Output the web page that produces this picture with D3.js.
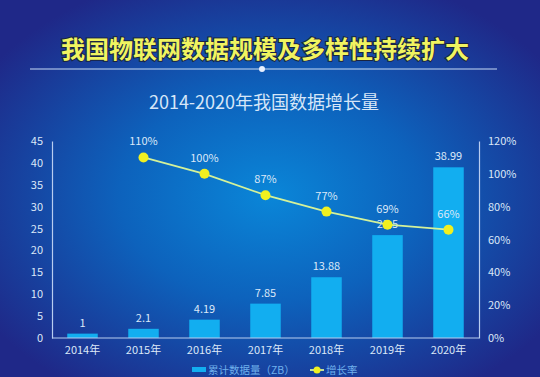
<!DOCTYPE html>
<html lang="zh">
<head>
<meta charset="UTF-8">
<title>物联网数据规模</title>
<script src="https://cdn.jsdelivr.net/npm/d3@7"></script>
<style>
  html, body { margin: 0; padding: 0; background: #1c2a86; }
  svg { display: block; font-family: "Noto Sans CJK SC", "Noto Sans", sans-serif; }
</style>
</head>
<body>
<div id="chart"></div>
<script>
const years = ["2014年", "2015年", "2016年", "2017年", "2018年", "2019年", "2020年"];
const volume = [1, 2.1, 4.19, 7.85, 13.88, 23.5, 38.99];
const volumeLabels = ["1", "2.1", "4.19", "7.85", "13.88", "23.5", "38.99"];
const rateYears = ["2015年", "2016年", "2017年", "2018年", "2019年", "2020年"];
const rate = [110, 100, 87, 77, 69, 66];
const leftTicks = [0, 5, 10, 15, 20, 25, 30, 35, 40, 45];
const rightTicks = [0, 20, 40, 60, 80, 100, 120];

const w = 540, h = 377;
const plotTop = 141, plotBottom = 338, plotLeft = 52, plotRight = 479;

const svg = d3.select("#chart").append("svg")
  .attr("width", w).attr("height", h);

// background
const defs = svg.append("defs");
const grad = defs.append("radialGradient").attr("id", "bg")
  .attr("cx", "50%").attr("cy", "52%").attr("r", "62%");
grad.append("stop").attr("offset", "0%").attr("stop-color", "#0a86d8");
grad.append("stop").attr("offset", "45%").attr("stop-color", "#0d62bc");
grad.append("stop").attr("offset", "100%").attr("stop-color", "#1f2888");
svg.append("rect").attr("width", w).attr("height", h).attr("fill", "url(#bg)");

// headings
svg.append("text")
  .attr("x", 265).attr("y", 58)
  .attr("text-anchor", "middle")
  .attr("font-size", 24).attr("font-weight", "bold")
  .attr("fill", "#f0f460")
  .attr("stroke", "#1a2440").attr("stroke-width", 2).attr("paint-order", "stroke")
  .text("我国物联网数据规模及多样性持续扩大");

svg.append("line")
  .attr("x1", 30).attr("x2", 497).attr("y1", 69).attr("y2", 69)
  .attr("stroke", "#c8dcf6").attr("stroke-width", 1.2);
svg.append("circle").attr("cx", 262).attr("cy", 69).attr("r", 3).attr("fill", "#e8f0ff");

svg.append("text")
  .attr("x", 264).attr("y", 109)
  .attr("text-anchor", "middle")
  .attr("font-size", 18)
  .attr("fill", "#d6e6f8")
  .text("2014-2020年我国数据增长量");

// scales
const x = d3.scaleBand().domain(years).range([plotLeft, plotRight]).paddingInner(0.5).paddingOuter(0.25);
const y = d3.scaleLinear().domain([0, 45]).range([plotBottom, plotTop]);
const y2 = d3.scaleLinear().domain([0, 120]).range([plotBottom, plotTop]);

const axisColor = "#b8cdf0";
const textColor = "#dce8f8";

// bars
svg.append("g").selectAll("rect")
  .data(volume)
  .join("rect")
  .attr("x", (d, i) => x(years[i]))
  .attr("y", d => y(d))
  .attr("width", x.bandwidth())
  .attr("height", d => plotBottom - y(d))
  .attr("fill", "#12aef0");

svg.append("g").selectAll("text")
  .data(volumeLabels)
  .join("text")
  .attr("x", (d, i) => x(years[i]) + x.bandwidth() / 2)
  .attr("y", (d, i) => y(volume[i]) - 7)
  .attr("text-anchor", "middle")
  .attr("font-size", 11)
  .attr("fill", textColor)
  .text(d => d);

// axes
const leftAxis = svg.append("g")
  .attr("transform", `translate(${plotLeft},0)`)
  .call(d3.axisLeft(y).tickValues(leftTicks).tickSize(0).tickPadding(9));
const rightAxis = svg.append("g")
  .attr("transform", `translate(${plotRight},0)`)
  .call(d3.axisRight(y2).tickValues(rightTicks).tickSize(0).tickPadding(9).tickFormat(d => d + "%"));
const bottomAxis = svg.append("g")
  .attr("transform", `translate(0,${plotBottom})`)
  .call(d3.axisBottom(x).tickSize(0).tickPadding(8));

[leftAxis, rightAxis, bottomAxis].forEach(g => {
  g.select(".domain").attr("stroke", axisColor).attr("stroke-width", 1.2);
  g.selectAll("text").attr("fill", textColor).attr("font-size", 11)
    .attr("font-family", "\"Noto Sans CJK SC\", sans-serif");
});
bottomAxis.select(".domain").attr("d", `M${plotLeft},0H${plotRight}`);

// growth line
const cx = d => x(d) + x.bandwidth() / 2;
svg.append("path")
  .datum(rate)
  .attr("fill", "none")
  .attr("stroke", "#d4f29a")
  .attr("stroke-width", 1.8)
  .attr("d", d3.line().x((d, i) => cx(rateYears[i])).y(d => y2(d)));

svg.append("g").selectAll("circle")
  .data(rate)
  .join("circle")
  .attr("cx", (d, i) => cx(rateYears[i]))
  .attr("cy", d => y2(d))
  .attr("r", 5)
  .attr("fill", "#f0f020");

svg.append("g").selectAll("text")
  .data(rate)
  .join("text")
  .attr("x", (d, i) => cx(rateYears[i]))
  .attr("y", d => y2(d) - 12)
  .attr("text-anchor", "middle")
  .attr("font-size", 11)
  .attr("fill", textColor)
  .text(d => d + "%");

// legend
const legend = svg.append("g").attr("transform", "translate(0,370)");
legend.append("rect").attr("x", 192).attr("y", -3).attr("width", 14).attr("height", 5).attr("fill", "#12aef0");
legend.append("text").attr("x", 208).attr("y", 4).attr("font-size", 10.5).attr("fill", "#6fb0ec")
  .text("累计数据量（ZB）");
legend.append("line").attr("x1", 310).attr("x2", 324).attr("y1", 0).attr("y2", 0)
  .attr("stroke", "#d4f29a").attr("stroke-width", 1.8);
legend.append("circle").attr("cx", 317).attr("cy", 0).attr("r", 3.5).attr("fill", "#f0f020");
legend.append("text").attr("x", 326).attr("y", 4).attr("font-size", 10.5).attr("fill", "#6fb0ec")
  .text("增长率");
</script>
</body>
</html>
